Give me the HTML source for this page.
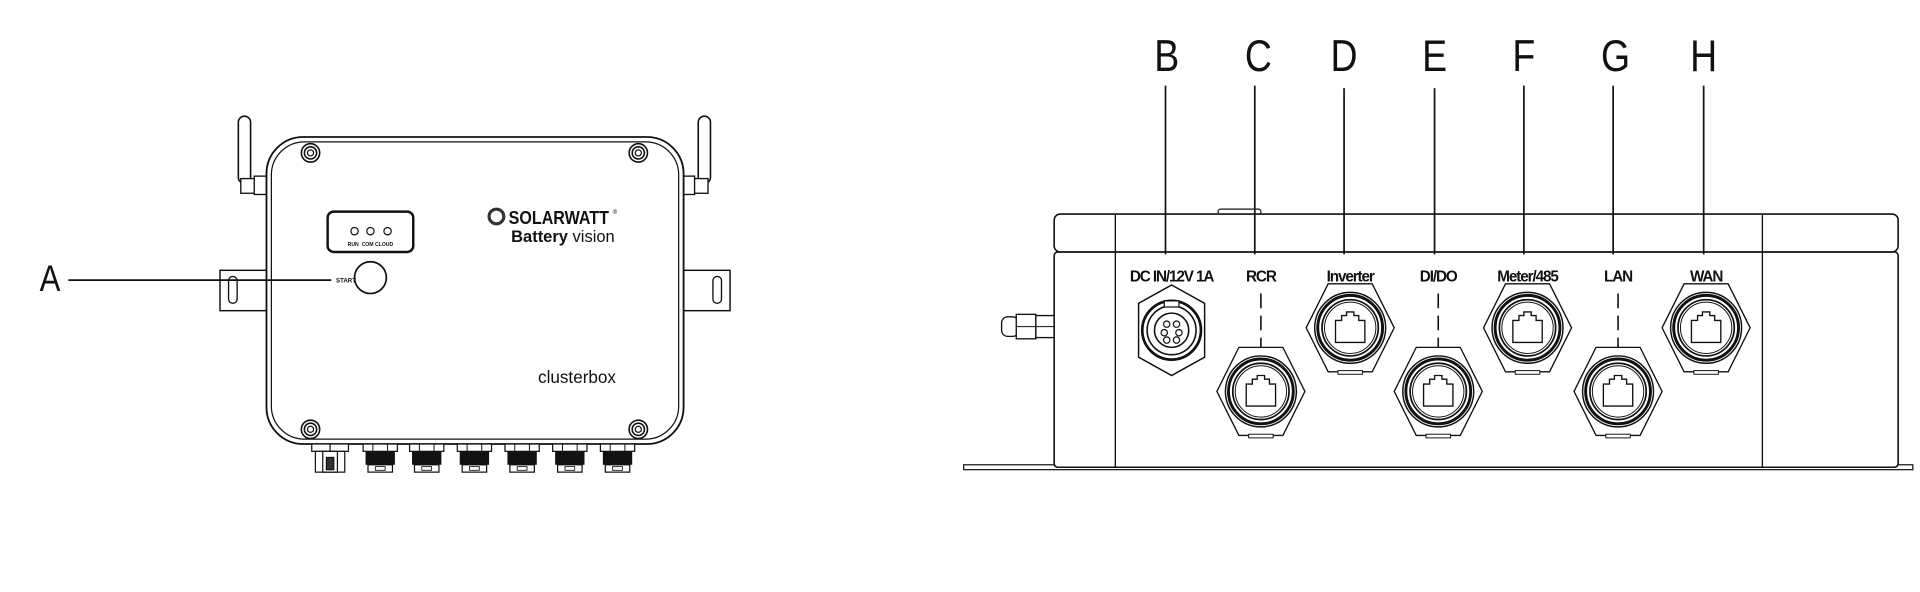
<!DOCTYPE html>
<html><head><meta charset="utf-8"><style>
html,body{margin:0;padding:0;background:#fff;width:1920px;height:592px;overflow:hidden}
svg{display:block}
text{font-family:"Liberation Sans",sans-serif;fill:#111}
</style></head><body>
<svg width="1920" height="592" viewBox="0 0 1568 484" xmlns="http://www.w3.org/2000/svg">
<defs>
<g id="screw"><circle r="7.5" fill="#fff" stroke="#111" stroke-width="1.3"/><circle r="5" fill="none" stroke="#111" stroke-width="1.3"/><circle r="2.5" fill="none" stroke="#111" stroke-width="1"/></g>
<g id="bconn">
<rect x="-14" y="0" width="28" height="6" fill="#fff" stroke="#111" stroke-width="1"/>
<line x1="-6" y1="0" x2="-6" y2="6" stroke="#111" stroke-width="0.8"/><line x1="6" y1="0" x2="6" y2="6" stroke="#111" stroke-width="0.8"/>
<rect x="-12" y="6" width="24" height="11" fill="#111"/>
<rect x="-10" y="17" width="20" height="6" fill="#fff" stroke="#111" stroke-width="1"/>
<rect x="-4" y="18.5" width="8" height="3" fill="none" stroke="#111" stroke-width="0.7"/>
</g>
<g id="rj">
<polygon points="-36,0 -18,-36 18,-36 36,0 18,36 -18,36" fill="#fff" stroke="#111" stroke-width="1.1"/>
<rect x="-10" y="35" width="20" height="3" fill="#fff" stroke="#111" stroke-width="0.8"/>
<circle r="29" fill="#fff" stroke="#111" stroke-width="1.2"/>
<circle r="26.5" fill="none" stroke="#111" stroke-width="2.4"/>
<circle r="23" fill="none" stroke="#111" stroke-width="1.4"/>
<circle r="21" fill="none" stroke="#111" stroke-width="0.8"/>
<path d="M-12,-6 h5 v-4 h4 v-3 h6 v3 h4 v4 h5 v18 h-24 z" fill="#fff" stroke="#111" stroke-width="1.1"/>
</g>
</defs>

<g stroke="#111" fill="#fff">
<rect x="194" y="95" width="10" height="55" rx="5" stroke-width="1.3"/>
<rect x="196" y="146" width="12" height="12" stroke-width="1.1"/>
<rect x="207" y="144" width="10" height="15" stroke-width="1.1"/>
<rect x="570" y="95" width="10" height="55" rx="5" stroke-width="1.3"/>
<rect x="566" y="146" width="12" height="12" stroke-width="1.1"/>
<rect x="557" y="144" width="10" height="15" stroke-width="1.1"/>
<rect x="179" y="221" width="42" height="33" stroke-width="1.2"/>
<rect x="186" y="226" width="7" height="22" rx="3.5" stroke-width="1.1"/>
<rect x="554" y="221" width="42" height="33" stroke-width="1.2"/>
<rect x="582" y="226" width="7" height="22" rx="3.5" stroke-width="1.1"/>
<rect x="217" y="112" width="341" height="251" rx="30" stroke-width="1.5"/>
<rect x="221" y="116" width="333" height="243" rx="27" stroke-width="1" fill="none"/>
</g>
<use href="#screw" x="253" y="125"/><use href="#screw" x="521" y="125"/>
<use href="#screw" x="253" y="351"/><use href="#screw" x="521" y="351"/>
<rect x="267" y="173" width="70" height="33" rx="5" fill="none" stroke="#111" stroke-width="2"/>
<circle cx="289" cy="189" r="3" fill="none" stroke="#111" stroke-width="1"/>
<circle cx="302" cy="189" r="3" fill="none" stroke="#111" stroke-width="1"/>
<circle cx="316" cy="189" r="3" fill="none" stroke="#111" stroke-width="1"/>
<text x="302" y="201" font-size="4.2" font-weight="bold" text-anchor="middle">RUN&#160;&#160;COM CLOUD</text>
<circle cx="302" cy="227" r="13" fill="#fff" stroke="#111" stroke-width="1.4"/>
<text x="282" y="231" font-size="5" font-weight="bold" text-anchor="middle">START</text>
<line x1="55" y1="229" x2="270" y2="229" stroke="#111" stroke-width="1.4"/>
<text x="0" y="0" font-size="30" text-anchor="middle" transform="translate(40,238) scale(0.85,1)" fill="#222">A</text>
<circle cx="405" cy="177" r="6" fill="none" stroke="#333" stroke-width="2.6"/>
<text x="415" y="183" font-size="15" font-weight="bold" fill="#333" textLength="82" lengthAdjust="spacingAndGlyphs">SOLARWATT</text>
<text x="500" y="175" font-size="5" fill="#333">®</text>
<text x="417" y="198" font-size="13.5" fill="#444"><tspan font-weight="bold">Battery</tspan> vision</text>
<text x="439" y="313" font-size="14" fill="#333">clusterbox</text>
<g stroke="#111" fill="#fff" stroke-width="1">
<rect x="254" y="363" width="30" height="6"/><line x1="269" y1="363" x2="269" y2="369"/>
<rect x="257" y="369" width="24" height="17"/>
<rect x="263" y="369" width="12" height="17" fill="#fff"/>
<rect x="266" y="374" width="6" height="10" fill="#333"/>
</g>
<use href="#bconn" x="310" y="363"/><use href="#bconn" x="348" y="363"/><use href="#bconn" x="387" y="363"/>
<use href="#bconn" x="426" y="363"/><use href="#bconn" x="465" y="363"/><use href="#bconn" x="504" y="363"/>

<g stroke="#111" fill="#fff">
<rect x="818" y="259" width="14" height="16" rx="5" stroke-width="1.1"/>
<rect x="830" y="257" width="16" height="20" stroke-width="1.1"/>
<rect x="846" y="258" width="15" height="18" stroke-width="1.1"/>
<line x1="830" y1="267" x2="861" y2="267" stroke-width="0.8"/>
<rect x="1522" y="259" width="14" height="16" rx="5" stroke-width="1.1"/>
<rect x="1508" y="257" width="16" height="20" stroke-width="1.1"/>
<rect x="1493" y="258" width="15" height="18" stroke-width="1.1"/>
<line x1="1493" y1="267" x2="1524" y2="267" stroke-width="0.8"/>
<rect x="787" y="380" width="776" height="4" stroke-width="1"/>
<rect x="861" y="206" width="690" height="176" rx="3" stroke-width="1.3"/>
<rect x="995" y="171" width="35" height="5" rx="2" stroke-width="1"/>
<rect x="861" y="175" width="690" height="31" rx="5" stroke-width="1.3"/>
</g>
<line x1="911" y1="175" x2="911" y2="382" stroke="#111" stroke-width="1.1"/>
<line x1="1440" y1="175" x2="1440" y2="382" stroke="#111" stroke-width="1.1"/>
<g font-size="36" text-anchor="middle" fill="#222">
<text transform="translate(953,58) scale(0.85,1)">B</text><text transform="translate(1028,58) scale(0.85,1)">C</text><text transform="translate(1098,58) scale(0.85,1)">D</text>
<text transform="translate(1172,58) scale(0.85,1)">E</text><text transform="translate(1245,58) scale(0.85,1)">F</text><text transform="translate(1320,58) scale(0.85,1)">G</text><text transform="translate(1392,58) scale(0.85,1)">H</text>
</g>
<g stroke="#111" stroke-width="1.4">
<line x1="952" y1="70" x2="952" y2="208"/><line x1="1025" y1="70" x2="1025" y2="208"/>
<line x1="1098" y1="72" x2="1098" y2="208"/><line x1="1172" y1="72" x2="1172" y2="208"/>
<line x1="1245" y1="70" x2="1245" y2="208"/><line x1="1318" y1="70" x2="1318" y2="208"/>
<line x1="1392" y1="70" x2="1392" y2="208"/>
</g>
<g font-size="12.5" font-weight="bold" text-anchor="middle" letter-spacing="-0.9">
<text x="957" y="230">DC IN/12V 1A</text><text x="1030" y="230">RCR</text>
<text x="1103" y="230">Inverter</text><text x="1175" y="230">DI/DO</text>
<text x="1248" y="230">Meter/485</text><text x="1322" y="230">LAN</text><text x="1394" y="230">WAN</text>
</g>
<g stroke="#111" stroke-width="1.3" stroke-dasharray="12,6">
<line x1="1030" y1="240" x2="1030" y2="286"/><line x1="1175" y1="240" x2="1175" y2="286"/><line x1="1322" y1="240" x2="1322" y2="286"/>
</g>
<g transform="translate(957,270)">
<polygon points="0,-37 27,-22 27,22 0,37 -27,22 -27,-22" fill="#fff" stroke="#111" stroke-width="1.2"/>
<circle r="24" fill="none" stroke="#111" stroke-width="2.2"/>
<circle r="20" fill="none" stroke="#111" stroke-width="1.3"/>
<circle r="14" fill="none" stroke="#111" stroke-width="1.3"/>
<rect x="-6" y="-24" width="12" height="5" fill="#fff" stroke="#111" stroke-width="1"/>
<circle cx="-4" cy="-5" r="2.6" fill="none" stroke="#111"/><circle cx="4" cy="-5" r="2.6" fill="none" stroke="#111"/>
<circle cx="-6" cy="2" r="2.6" fill="none" stroke="#111"/><circle cx="6" cy="2" r="2.6" fill="none" stroke="#111"/>
<circle cx="-4" cy="8" r="2.6" fill="none" stroke="#111"/><circle cx="4" cy="8" r="2.6" fill="none" stroke="#111"/>
</g>
<use href="#rj" x="1103" y="268"/><use href="#rj" x="1248" y="268"/><use href="#rj" x="1394" y="268"/>
<use href="#rj" x="1030" y="320"/><use href="#rj" x="1175" y="320"/><use href="#rj" x="1322" y="320"/>
</svg>
</body></html>
